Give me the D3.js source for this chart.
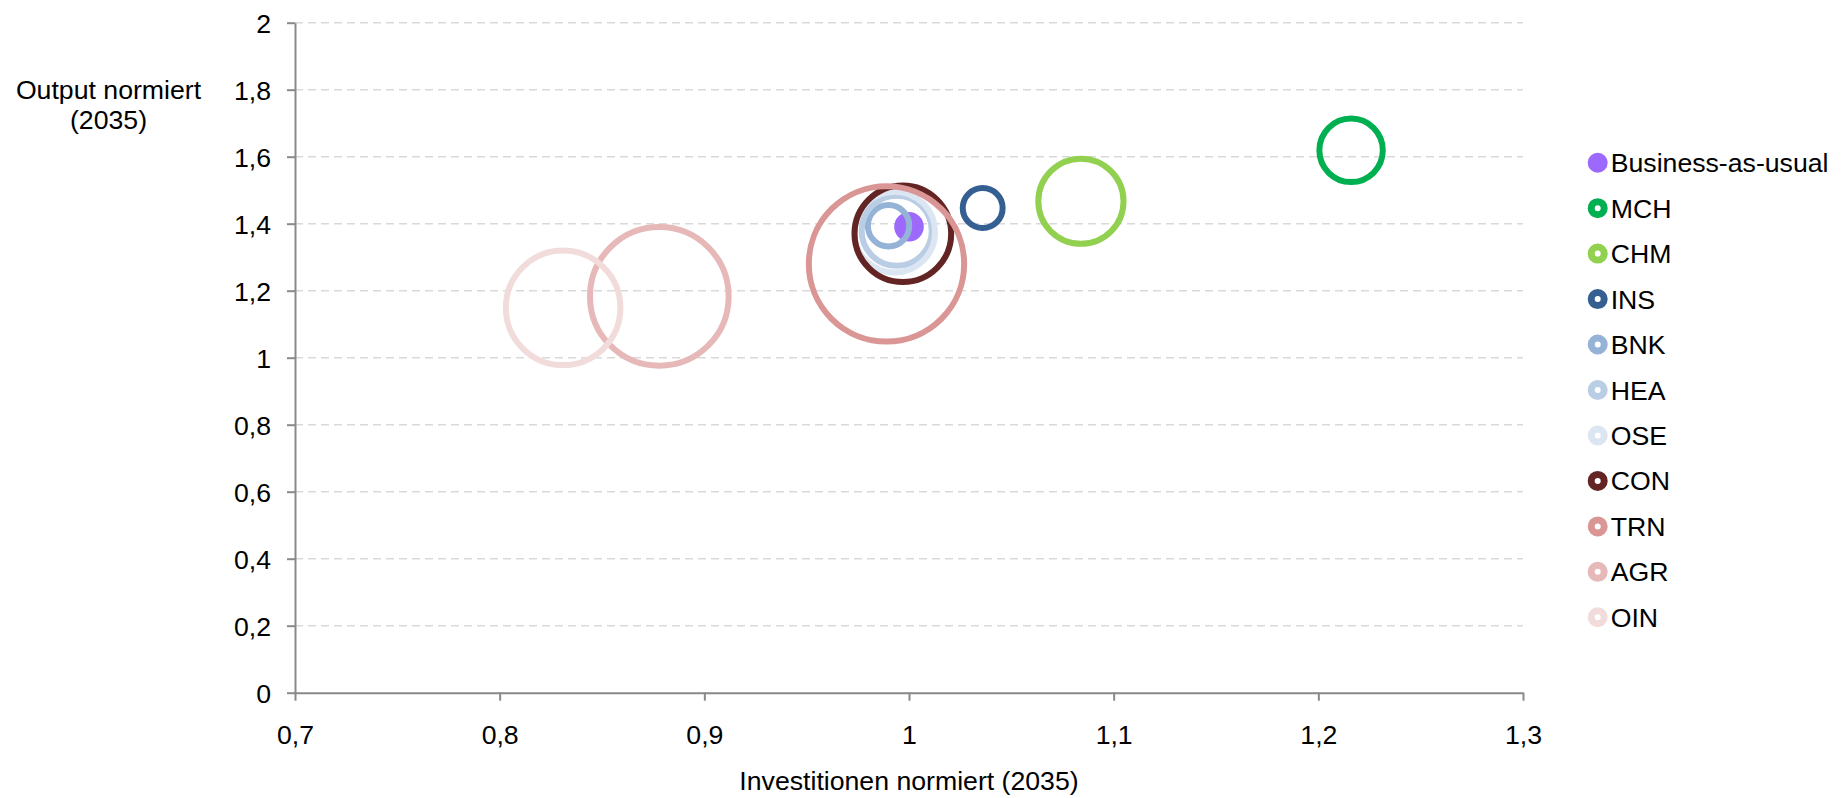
<!DOCTYPE html>
<html><head><meta charset="utf-8">
<script src="https://cdn.jsdelivr.net/npm/d3@7"></script>
<style>
html,body{margin:0;padding:0;background:#fff;}
svg{display:block;font-family:"Liberation Sans",Arial,sans-serif;}
</style>
</head><body>
<svg id="chart" width="1847" height="798"></svg>
<script>
// ---- data ----
const seriesNames = ["Business-as-usual","MCH","CHM","INS","BNK","HEA","OSE","CON","TRN","AGR","OIN"];
const investitionen = [1.000, 1.216, 1.084, 1.036, 0.990, 0.994, 0.993, 0.997, 0.989, 0.878, 0.831];
const output        = [1.391, 1.619, 1.467, 1.447, 1.394, 1.379, 1.375, 1.370, 1.280, 1.183, 1.149];
const bubbleSize    = [2.3, 16.7, 30.1, 6.6, 7.1, 20.4, 27.1, 38.7, 100, 79.7, 54.4];
const seriesColors  = ["#9d69fd","#00b050","#92d050","#365f91","#95b3d7","#b9cde5","#dce6f2","#632523","#d99694","#e6b9b8","#f2dcdb"];
const filled        = [true,false,false,false,false,false,false,false,false,false,false];
const xTicks = [0.7,0.8,0.9,1.0,1.1,1.2,1.3];
const xTickLabels = ["0,7","0,8","0,9","1","1,1","1,2","1,3"];
const yTicks = [0,0.2,0.4,0.6,0.8,1.0,1.2,1.4,1.6,1.8,2.0];
const yTickLabels = ["0","0,2","0,4","0,6","0,8","1","1,2","1,4","1,6","1,8","2"];
const xTitle = "Investitionen normiert (2035)";
const yTitleLines = ["Output normiert","(2035)"];

// ---- layout ----
const FS = 26.67;
const plot = {left:295, right:1523, top:22.7, bottom:692.7};
const svg = d3.select("#chart");
const x = d3.scaleLinear().domain([0.7,1.3]).range([plot.left, plot.right]);
const y = d3.scaleLinear().domain([0,2]).range([plot.bottom, plot.top]);
const r = d3.scaleSqrt().domain([0,100]).range([0,77.65]);
const axisColor = "#898989";

// gridlines
svg.append("g").selectAll("line").data(yTicks.filter(d=>d>0)).join("line")
  .attr("x1", plot.left).attr("x2", plot.right)
  .attr("y1", d=>y(d)).attr("y2", d=>y(d))
  .attr("stroke","#d9d9d9").attr("stroke-width",1.5).attr("stroke-dasharray","8,5");

// bubbles
const data = seriesNames.map((n,i)=>({name:n, x:investitionen[i], y:output[i], s:bubbleSize[i], c:seriesColors[i], f:filled[i]}));
svg.append("g").selectAll("circle").data(data).join("circle")
  .attr("cx", d=>x(d.x)).attr("cy", d=>y(d.y)).attr("r", d=>r(d.s))
  .attr("fill", d=>d.f ? d.c : "none")
  .attr("stroke", d=>d.c).attr("stroke-width", 6);

// axes
const yAxis = d3.axisLeft(y).tickValues(yTicks).tickFormat((d,i)=>yTickLabels[i]).tickSize(8).tickSizeOuter(0).tickPadding(16);
const xAxis = d3.axisBottom(x).tickValues(xTicks).tickFormat((d,i)=>xTickLabels[i]).tickSize(8).tickSizeOuter(0).tickPadding(24);
const gy = svg.append("g").attr("transform",`translate(${plot.left},0)`).call(yAxis);
const gx = svg.append("g").attr("transform",`translate(0,${plot.bottom})`).call(xAxis);
[gx,gy].forEach(g=>{
  g.select(".domain").attr("stroke",axisColor).attr("stroke-width",2);
  g.selectAll(".tick line").attr("stroke",axisColor).attr("stroke-width",2);
  g.selectAll(".tick text").attr("fill","#000").style("font-size",FS+"px").style("font-family","'Liberation Sans',Arial,sans-serif");
});
gy.selectAll(".tick text").attr("dy","0.36em");

// axis titles
svg.append("text").attr("x",(plot.left+plot.right)/2).attr("y",790)
  .attr("text-anchor","middle").style("font-size",FS+"px").text(xTitle);
svg.append("g").selectAll("text").data(yTitleLines).join("text")
  .attr("x",108.5).attr("y",(d,i)=>99+i*30)
  .attr("text-anchor","middle").style("font-size",FS+"px").text(d=>d);

// legend
const lg = svg.append("g");
const rows = lg.selectAll("g").data(data).join("g")
  .attr("transform",(d,i)=>`translate(1597.7,${162.7+i*45.46})`);
rows.append("circle").attr("r", d=>d.f?10:6.5)
  .attr("fill", d=>d.f?d.c:"#fff")
  .attr("stroke", d=>d.f?"none":d.c).attr("stroke-width",7);
rows.append("text").attr("x",13).attr("y",9.5).style("font-size",FS+"px").text(d=>d.name);
</script>
</body></html>
